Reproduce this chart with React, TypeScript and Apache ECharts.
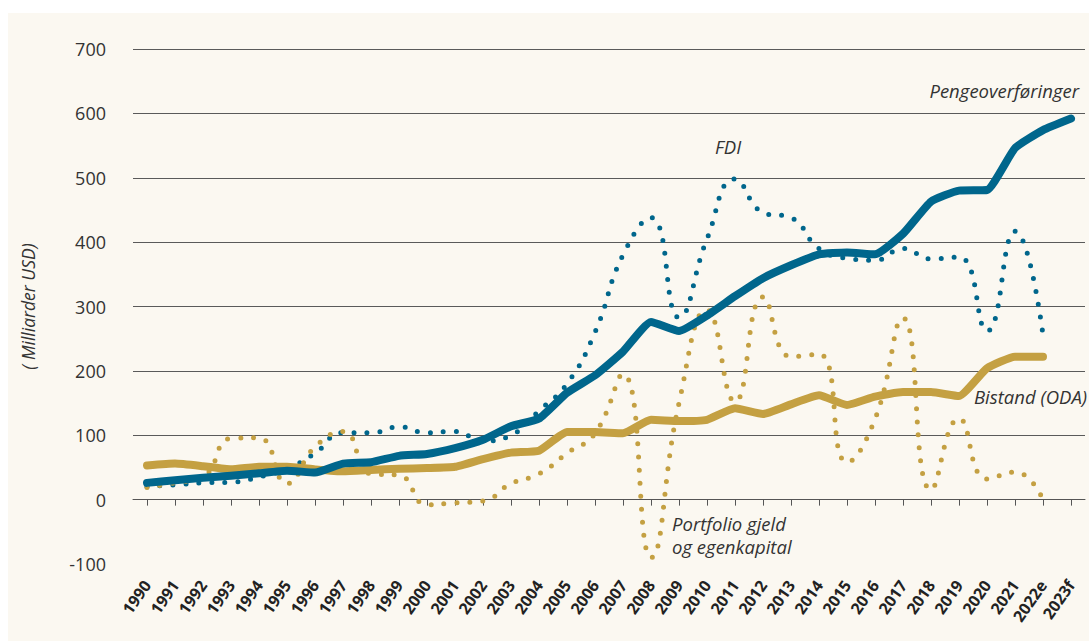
import React, { useEffect, useRef } from 'react';
import * as echarts from 'echarts';

const years = [
  '1990', '1991', '1992', '1993', '1994', '1995', '1996', '1997', '1998', '1999',
  '2000', '2001', '2002', '2003', '2004', '2005', '2006', '2007', '2008', '2009',
  '2010', '2011', '2012', '2013', '2014', '2015', '2016', '2017', '2018', '2019',
  '2020', '2021', '2022e', '2023f',
];

// Pengeoverføringer (remittances)
const remittances = [
  26, 30, 34, 37, 41, 45, 42, 56, 58, 68,
  71, 80, 93, 114, 126, 166, 193, 230, 276, 262,
  286, 316, 344, 364, 381, 384, 381, 413, 463, 480,
  481, 546, 574, 592,
];

// FDI
const fdi = [
  20, 23, 26, 27, 35, 48, 72, 104, 104, 113,
  104, 106, 91, 100, 138, 180, 260, 380, 438, 283,
  405, 498, 446, 438, 390, 375, 372, 390, 374, 377,
  262, 417, 256,
];

// Bistand (ODA)
const oda = [
  53, 56, 52, 47, 51, 51, 47, 44, 46, 48,
  49, 51, 63, 73, 76, 105, 105, 103, 124, 122,
  124, 142, 133, 148, 162, 147, 160, 167, 167, 161,
  204, 222, 222,
];

// Portfolio gjeld og egenkapital
const portfolio = [
  19, 26, 35, 95, 96, 25, 82, 106, 40, 38,
  -8, -5, -2, 25, 40, 72, 103, 195, -90, 150,
  295, 152, 315, 222, 226, 58, 125, 282, 15, 126,
  32, 43, 0,
];

const gridValues = [100, 200, 300, 400, 500, 600, 700];

const TEAL = '#00668c';
const GOLD = '#c4a042';
const FONT = "'Open Sans', 'Noto Sans', sans-serif";
const BG = '#fbf8f1';

export default function App() {
  const ref = useRef<HTMLDivElement>(null);

  useEffect(() => {
    if (!ref.current) return;
    const chart = echarts.init(ref.current, null, { renderer: 'svg' });
    const dotted = (color: string) => ({
      color,
      width: 5,
      type: [0, 13],
      cap: 'round',
    });
    chart.setOption({
      animation: false,
      backgroundColor: BG,
      textStyle: { fontFamily: FONT },
      grid: { left: 125, right: 4, top: 36, bottom: 77, containLabel: false },
      xAxis: [
        {
          type: 'category',
          data: years,
          boundaryGap: true,
          position: 'bottom',
          axisLine: { show: true, onZero: true, lineStyle: { color: '#555', width: 1 } },
          axisTick: { show: true, alignWithLabel: true, interval: 0, length: 6, lineStyle: { color: '#555', width: 1 } },
          axisLabel: { show: false },
          splitLine: { show: false },
        },
        {
          type: 'category',
          data: years,
          boundaryGap: true,
          position: 'bottom',
          axisLine: { show: false, onZero: false },
          axisTick: { show: false },
          axisLabel: {
            show: true,
            interval: 0,
            rotate: 55,
            margin: 18,
            fontSize: 16,
            fontWeight: 'bold',
            color: '#222',
            fontFamily: FONT,
          },
          splitLine: { show: false },
        },
      ],
      yAxis: {
        type: 'value',
        min: -100,
        max: 700,
        interval: 100,
        axisLine: { show: false },
        axisTick: { show: false },
        splitLine: { show: false },
        axisLabel: { fontSize: 18, color: '#333', margin: 27, fontFamily: FONT },
        name: '( Milliarder USD)',
        nameLocation: 'middle',
        nameGap: 96,
        nameRotate: 90,
        nameTextStyle: { fontStyle: 'italic', fontSize: 17.5, color: '#333', fontFamily: FONT },
      },
      series: [
        {
          name: 'FDI',
          type: 'line',
          data: fdi,
          smooth: 0.5,
          showSymbol: false,
          symbol: 'none',
          z: 2,
          lineStyle: dotted(TEAL),
          markLine: {
            silent: true,
            z: 1,
            symbol: ['none', 'none'],
            label: { show: false },
            lineStyle: { color: '#5a5a5a', width: 1, type: 'solid' },
            data: gridValues.map((v) => ({ yAxis: v })),
          },
        },
        {
          name: 'Portfolio gjeld og egenkapital',
          type: 'line',
          data: portfolio,
          smooth: 0.5,
          showSymbol: false,
          symbol: 'none',
          z: 3,
          lineStyle: dotted(GOLD),
        },
        {
          name: 'Bistand (ODA)',
          type: 'line',
          data: oda,
          smooth: 0.15,
          showSymbol: false,
          symbol: 'none',
          z: 4,
          lineStyle: { color: GOLD, width: 8, cap: 'round', join: 'round' },
        },
        {
          name: 'Pengeoverføringer',
          type: 'line',
          data: remittances,
          smooth: 0.15,
          showSymbol: false,
          symbol: 'none',
          z: 5,
          lineStyle: { color: TEAL, width: 8, cap: 'round', join: 'round' },
        },
      ],
      graphic: [
        {
          type: 'text',
          right: 10,
          top: 68,
          style: { text: 'Pengeoverføringer', font: `italic 18.5px ${FONT}`, fill: '#333' },
        },
        {
          type: 'text',
          left: 707,
          top: 124,
          style: { text: 'FDI', font: `italic 18.5px ${FONT}`, fill: '#333' },
        },
        {
          type: 'text',
          left: 966,
          top: 374,
          style: { text: 'Bistand (ODA)', font: `italic 18.5px ${FONT}`, fill: '#333' },
        },
        {
          type: 'text',
          left: 664,
          top: 501,
          style: { text: 'Portfolio gjeld', font: `italic 18.5px ${FONT}`, fill: '#333' },
        },
        {
          type: 'text',
          left: 664,
          top: 524,
          style: { text: 'og egenkapital', font: `italic 18.5px ${FONT}`, fill: '#333' },
        },
      ],
    });
    return () => chart.dispose();
  }, []);

  return (
    <div
      ref={ref}
      style={{ position: 'absolute', left: 8, top: 13, width: 1081, height: 628, background: BG }}
    />
  );
}
